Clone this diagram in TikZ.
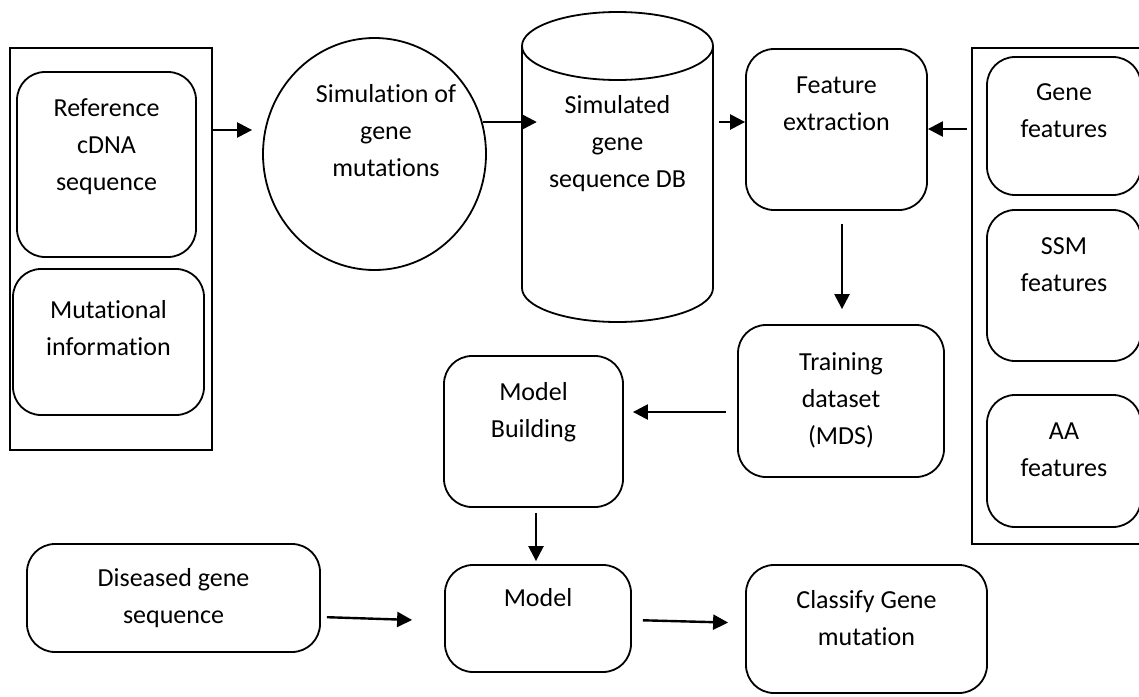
\documentclass[tikz,border=0pt]{standalone}
\usepackage{fontspec}
\setmainfont[RawFeature={-liga;-clig;-calt;-dlig}]{Carlito}
\usetikzlibrary{arrows.meta,shapes.geometric}

\begin{document}
\begin{tikzpicture}[x=1pt, y=-1pt,
		box_style/.style={draw=black, line width=1.8pt, rounded corners=28pt, inner sep=0pt},
		frame_style/.style={draw=black, line width=1.8pt, inner sep=0pt},
		circle_style/.style={ellipse, draw=black, line width=1.8pt, inner sep=0pt},
		text_style/.style={font=\fontsize{26}{37}\selectfont, align=center, anchor=north, inner sep=0pt},
		arrow_style/.style={draw=black, line width=2.4pt, -{Triangle[length=15pt,width=15pt]}}]
		
		\useasboundingbox (0,0) rectangle (1139,696);
		
		\node[frame_style, minimum width=202pt, minimum height=402pt] (leftframe) at (111,249) {};
		\node[box_style, minimum width=179pt, minimum height=185pt] (refseq) at (106.5,164.5) {};
		\node[box_style, minimum width=191pt, minimum height=146pt] (mutinfo) at (108.5,342) {};
		\node[circle_style, minimum width=223pt, minimum height=232pt] (simcircle) at (374.5,154) {};
		\node[minimum width=191pt, minimum height=310pt, inner sep=0pt] (simdb) at (617.5,167) {};
		\node[box_style, minimum width=181pt, minimum height=161pt] (featext) at (836.5,129.5) {};
		\node[frame_style, minimum width=188pt, minimum height=496pt] (rightframe) at (1066,296) {};
		\node[box_style, minimum width=154pt, minimum height=138pt] (genef) at (1064,126) {};
		\node[box_style, minimum width=154pt, minimum height=151pt] (ssmf) at (1064,285.5) {};
		\node[box_style, minimum width=154pt, minimum height=132pt] (aaf) at (1064,461) {};
		\node[box_style, minimum width=206pt, minimum height=152pt] (train) at (841,401) {};
		\node[box_style, minimum width=179pt, minimum height=151pt] (modbuild) at (533.5,431.5) {};
		\node[box_style, minimum width=186pt, minimum height=107pt] (model) at (538,618.5) {};
		\node[box_style, minimum width=293pt, minimum height=108pt] (diseased) at (173.5,598) {};
		\node[box_style, minimum width=241pt, minimum height=128pt] (classify) at (866.5,629) {};
		
		\draw[line width=1.8pt] (617.5,46) ellipse [x radius=95.5pt, y radius=34pt];
		\draw[line width=1.8pt] (522,46) -- (522,288) arc [start angle=180, end angle=360, x radius=95.5pt, y radius=34pt] -- (713,46);
		
		\node[text_style] (refseq_t) at (106.5,98) {Reference\\cDNA\\sequence};
		\node[text_style] (mutinfo_t) at (108.5,300) {Mutational\\information};
		\node[text_style] (simcircle_t) at (386,84) {Simulation of\\gene\\mutations};
		\node[text_style] (simdb_t) at (617.5,95) {Simulated\\gene\\sequence DB};
		\node[text_style] (featext_t) at (836.5,77) {Feature\\extraction};
		\node[text_style] (genef_t) at (1064,83) {Gene\\features};
		\node[text_style] (ssmf_t) at (1064,237) {SSM\\features};
		\node[text_style] (aaf_t) at (1064,423) {AA\\features};
		\node[text_style] (train_t) at (841,352) {Training\\dataset\\(MDS)};
		\node[text_style] (modbuild_t) at (533.5,382) {Model\\Building};
		\node[text_style] (model_t) at (538,588) {Model};
		\node[text_style] (diseased_t) at (173.5,568) {Diseased gene\\sequence};
		\node[text_style] (classify_t) at (866.5,590) {Classify Gene\\mutation};
		
		\draw[arrow_style, shorten >=10pt] (leftframe.east |- 0,130) -- (simcircle.west |- 0,130);
		\draw[arrow_style, shorten <=-4pt, shorten >=-15pt] (simcircle.east |- 0,122) -- (simdb.west |- 0,122);
		\draw[arrow_style, shorten <=6pt] (simdb.east |- 0,122) -- (featext.west |- 0,122);
		\draw[arrow_style, shorten <=4pt] (rightframe.west |- 0,129) -- (featext.east |- 0,129);
		\draw[arrow_style, shorten <=13pt, shorten >=15pt] ([xshift=5.5pt]featext.south) -- ([xshift=1pt]train.north);
		\draw[arrow_style, shorten <=11pt, shorten >=9pt] (train.west |- 0,412) -- (modbuild.east |- 0,412);
		\draw[arrow_style, shorten <=5pt, shorten >=3pt] ([xshift=2.5pt]modbuild.south) -- ([xshift=-2pt]model.north);
		\draw[arrow_style, shorten <=6pt, shorten >=32pt] (diseased.east |- 0,617) -- (model.west |- 0,621);
		\draw[arrow_style, shorten <=11pt, shorten >=17pt] (model.east |- 0,620) -- (classify.west |- 0,623);
		
\end{tikzpicture}
\end{document}
